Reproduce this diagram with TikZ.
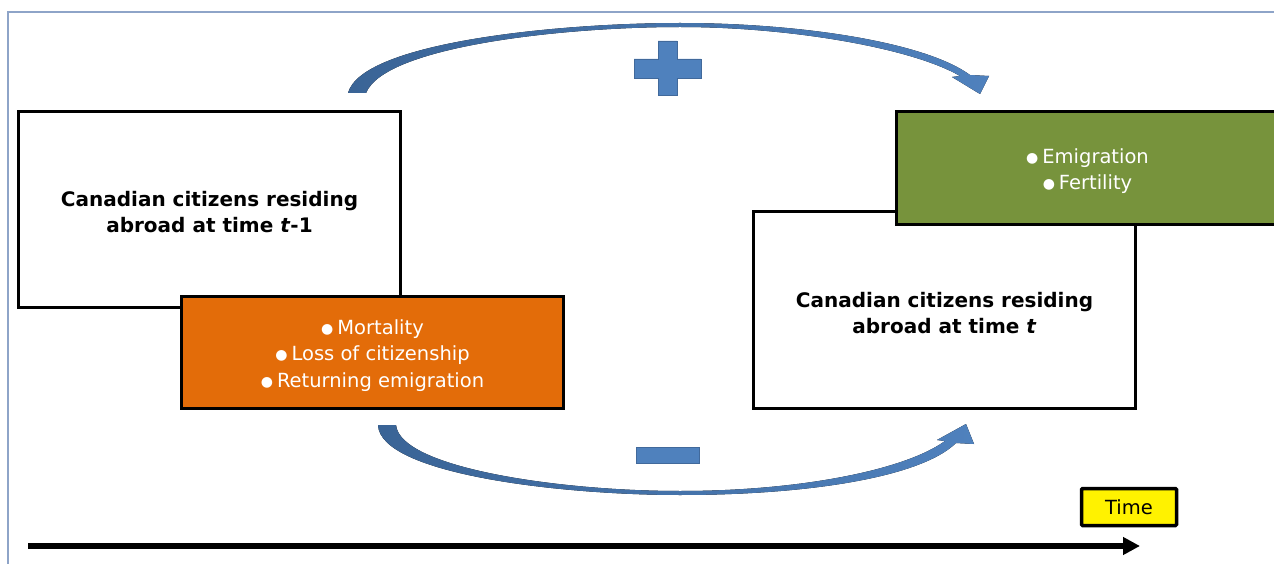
\documentclass[tikz,border=0pt]{standalone}
\usepackage{fontspec}
\setmainfont{DejaVu Sans}
\usetikzlibrary{arrows.meta}

\definecolor{framegrey}{HTML}{8EA4C8}
\definecolor{boxorange}{HTML}{E36C09}
\definecolor{boxgreen}{HTML}{77933C}
\definecolor{flowblue}{HTML}{4F81BD}
\definecolor{flowdark}{HTML}{3A6496}
\definecolor{flowedge}{HTML}{41699B}

\newcommand{\bul}{\raisebox{1.2pt}{\fontsize{14}{14}\selectfont ●}\hspace{4pt}}
% strut that pushes a text block a few points lower in its box
\newcommand{\lowstrut}{\rule{0pt}{21pt}}

\tikzset{
  stockbox/.style={draw=black, line width=3.5pt, fill=white, align=center,
    font=\fontsize{20}{26}\selectfont\bfseries,
    minimum width=382pt, minimum height=196pt, inner sep=0pt},
  flowbox/.style={draw=black, line width=3.5pt, align=center, text=white,
    font=\fontsize{19.5}{26.5}\selectfont,
    minimum width=382pt, minimum height=112pt, inner sep=0pt},
  timebox/.style={draw=black, line width=3.5pt, fill=yellow, rounded corners=1pt,
    font=\fontsize{19.5}{24}\selectfont,
    minimum width=95pt, minimum height=37pt, inner sep=0pt},
  bandarrow/.style={left color=flowdark, right color=flowblue, draw=none},
  signshape/.style={fill=flowblue, draw=flowedge, line width=0.6pt},
}

\begin{document}
\begin{tikzpicture}[x=1pt, y=-1pt]
\useasboundingbox (0,0) rectangle (1274,564);

% outer frame (only the top and left edges fall inside the page)
\draw[framegrey, line width=1.5pt] (8,570) -- (8,12) -- (1280,12);

% stock at t-1 with its outflows
\node[stockbox] (prev) at (209.5,209.5) {\lowstrut Canadian citizens residing\\abroad at time \textit{t}-1};
\node[flowbox, fill=boxorange] (minus) at (372.5,352.5)
  {\lowstrut\bul Mortality\\\bul Loss of citizenship\\\bul Returning emigration};

% stock at t with its inflows
\node[stockbox, minimum height=197pt] (curr) at (944.5,310) {\lowstrut Canadian citizens residing\\abroad at time \textit{t}};
\node[flowbox, fill=boxgreen, minimum height=113pt] (plus) at (1087.5,168)
  {\lowstrut\bul Emigration\\\bul Fertility};

% upper curved arrow (additions)
\fill[bandarrow]
  (348,93) .. controls (362,42) and (560,23) .. (680,23)
  .. controls (800,23) and (925,42) .. (970,75)
  -- (989,76) -- (980,94) -- (952,77) -- (960,76)
  .. controls (912,48) and (790,27) .. (680,27)
  .. controls (565,27) and (385,46) .. (366,93) -- cycle;

% lower curved arrow (removals)
\fill[bandarrow]
  (378,425) .. controls (380,474) and (560,495) .. (680,495)
  .. controls (805,495) and (920,478) .. (956,443)
  -- (974,444) -- (966,424) -- (937,440) -- (945,441)
  .. controls (905,470) and (800,491) .. (680,491)
  .. controls (560,491) and (400,468) .. (396,425) -- cycle;

% plus and minus signs
\path[signshape] (658,41) -- (677,41) -- (677,59) -- (701,59) -- (701,78)
  -- (677,78) -- (677,95) -- (658,95) -- (658,78) -- (634,78) -- (634,59)
  -- (658,59) -- cycle;
\path[signshape] (636,447) rectangle (699,463);

% time axis
\node[timebox] (time) at (1129,507) {Time};
\coordinate (tstart) at (28,546);
\coordinate (tend) at (1140,546);
\draw[line width=6pt, -{Triangle[length=17pt,width=17pt]}] (tstart) -- (tend);
\end{tikzpicture}
\end{document}
